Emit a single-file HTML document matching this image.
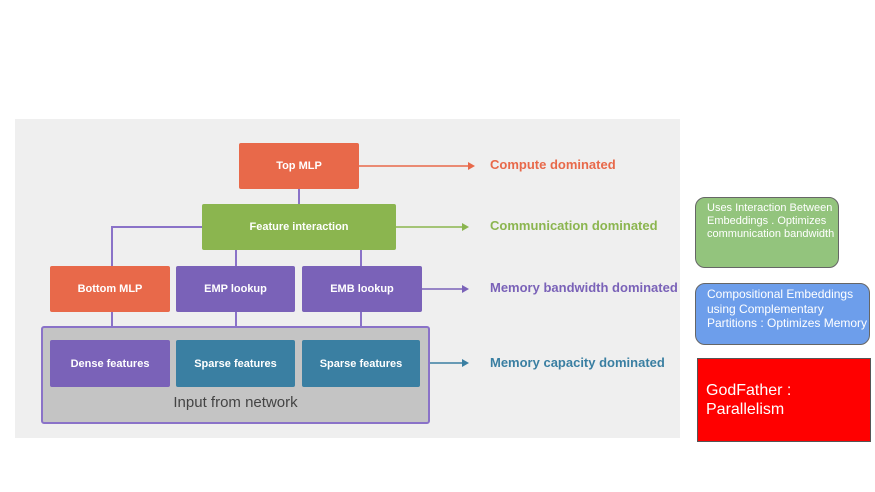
<!DOCTYPE html>
<html><head><style>
body{margin:0;width:875px;height:492px;background:#fff;position:relative;overflow:hidden;font-family:"Liberation Sans",sans-serif}
.a{position:absolute;box-sizing:border-box}
.b{position:absolute;box-sizing:border-box;color:#fff;font-weight:bold;font-size:11px;display:flex;align-items:center;justify-content:center;border-radius:2px}
.l{position:absolute;font-size:13px;font-weight:bold}
</style></head><body>
<div class="a" style="left:15px;top:119px;width:665px;height:319px;background:#efefef"></div>
<svg class="a" style="left:0;top:0" width="875" height="492">
<g stroke="#8a72c8" stroke-width="2" fill="none">
<path d="M202 227 H112 V266"/>
<path d="M236 250 V266 M361 250 V266 M299 189 V204"/>
<path d="M112 312 V326 M236 312 V326 M361 312 V326"/>
</g>
<path d="M359 166 H468" stroke="#e8694a" stroke-width="1.5"/><path d="M468 162 L475 166 L468 170Z" fill="#e8694a"/>
<path d="M396 227 H462" stroke="#8bb54f" stroke-width="1.5"/><path d="M462 223 L469 227 L462 231Z" fill="#8bb54f"/>
<path d="M422 289 H462" stroke="#7a62b8" stroke-width="1.5"/><path d="M462 285 L469 289 L462 293Z" fill="#7a62b8"/>
<path d="M420 363 H462" stroke="#3a7fa2" stroke-width="1.5"/><path d="M462 359 L469 363 L462 367Z" fill="#3a7fa2"/>
</svg>
<div class="a" style="left:41px;top:326px;width:389px;height:98px;background:#c4c4c4;border:2px solid #8a72c8;border-radius:3px"></div>
<div class="a" style="left:41px;top:394px;width:389px;text-align:center;font-size:15px;color:#444">Input from network</div>
<div class="b" style="left:239px;top:143px;width:120px;height:46px;background:#e8694a">Top MLP</div>
<div class="b" style="left:202px;top:204px;width:194px;height:46px;background:#8bb54f">Feature interaction</div>
<div class="b" style="left:50px;top:266px;width:120px;height:46px;background:#e8694a">Bottom MLP</div>
<div class="b" style="left:176px;top:266px;width:119px;height:46px;background:#7a62b8">EMP lookup</div>
<div class="b" style="left:302px;top:266px;width:120px;height:46px;background:#7a62b8">EMB lookup</div>
<div class="b" style="left:50px;top:340px;width:120px;height:47px;background:#7a62b8">Dense features</div>
<div class="b" style="left:176px;top:340px;width:119px;height:47px;background:#3a7fa2">Sparse features</div>
<div class="b" style="left:302px;top:340px;width:118px;height:47px;background:#3a7fa2">Sparse features</div>
<div class="l" style="left:490px;top:157px;color:#e8694a">Compute dominated</div>
<div class="l" style="left:490px;top:218px;color:#8bb54f">Communication dominated</div>
<div class="l" style="left:490px;top:280px;color:#7a62b8">Memory bandwidth dominated</div>
<div class="l" style="left:490px;top:355px;color:#3a7fa2">Memory capacity dominated</div>
<div class="a" style="left:695px;top:197px;width:144px;height:71px;background:#93c47d;border:1px solid #666;border-radius:10px;color:#fff;font-size:11px;line-height:13px;padding:4px 0 0 11px">Uses Interaction Between Embeddings . Optimizes communication bandwidth</div>
<div class="a" style="left:695px;top:283px;width:175px;height:62px;background:#6d9eeb;border:1px solid #666;border-radius:10px;color:#fff;font-size:12px;line-height:14.5px;padding:3px 0 0 11px">Compositional Embeddings using Complementary Partitions : Optimizes Memory</div>
<div class="a" style="left:697px;top:358px;width:174px;height:84px;background:#ff0000;border:1px solid #555;color:#fff;font-size:16px;line-height:19px;padding:22px 0 0 8px">GodFather : Parallelism</div>
</body></html>
